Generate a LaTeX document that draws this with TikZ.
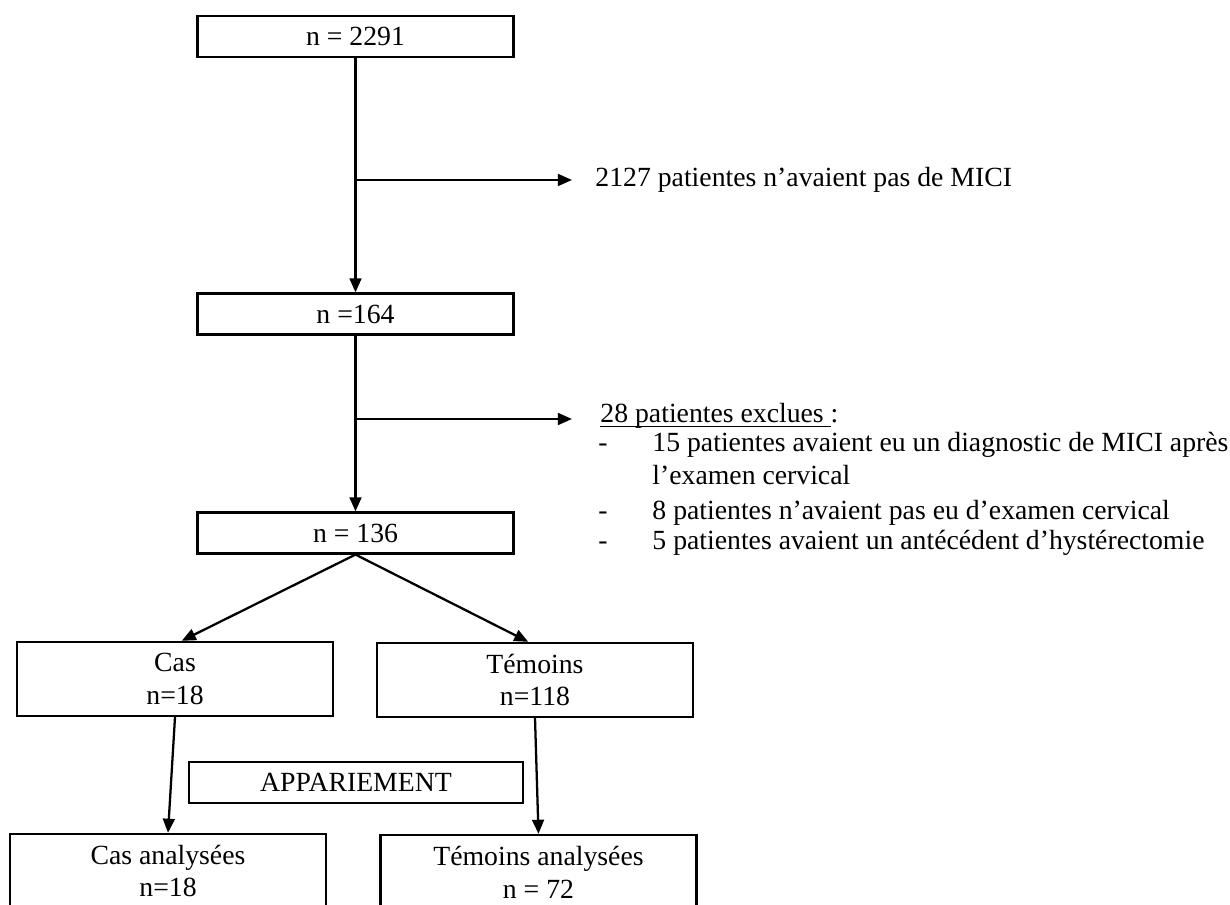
\documentclass[tikz,border=0pt]{standalone}
\usepackage{fontspec}
\setmainfont{Liberation Serif}
\usetikzlibrary{arrows.meta}

\tikzset{
	box/.style={draw, line width=1pt, minimum width=139pt, minimum height=18pt, inner sep=0pt, align=center, font=\fontsize{12.2}{14.5}\selectfont},
	tallbox/.style={box, minimum height=32.6pt},
	link/.style={line width=1pt, -{Triangle[length=6.2pt,width=5.2pt]}},
	note/.style={inner sep=0pt, anchor=base west, font=\fontsize{12.2}{14.5}\selectfont}
}

\begin{document}
\begin{tikzpicture}[x=0.44pt, y=-0.44pt]
	\useasboundingbox (0,0) rectangle (1230,905);

	% Boxes
	\node[box] (total) at (355.5,36.5) {n = 2291};
	\node[box] (mici) at (355.5,314) {n =164};
	\node[box] (incl) at (355.5,533) {n = 136};

	\node[tallbox] (cas) at (175,679) {Cas\\n=18};
	\node[tallbox] (tem) at (535,680) {Témoins\\n=118};

	\node[box, minimum width=147pt] (appar) at (356,782.5) {APPARIEMENT};

	\node[tallbox] (casan) at (168,871) {Cas analysées\\n=18};
	\node[tallbox] (teman) at (538.5,872) {Témoins analysées\\n = 72};

	% Branch points
	\coordinate (split1) at (355.5,180);
	\coordinate (out1) at (572,180);
	\coordinate (split2) at (355.5,419);
	\coordinate (out2) at (572,419);

	% Side notes
	\node[note] (nomici) at (595,187) {2127 patientes n’avaient pas de MICI};

	\node[note] (excl) at (600,423) {\underline{\smash{28 patientes exclues }}:};
	\node[note] (dash1) at (598,452) {-};
	\node[note] (excl1) at (652,452) {15 patientes avaient eu un diagnostic de MICI après};
	\node[note] (excl1b) at (652,485) {l’examen cervical};
	\node[note] (dash2) at (598,520) {-};
	\node[note] (excl2) at (652,520) {8 patientes n’avaient pas eu d’examen cervical};
	\node[note] (dash3) at (598,550) {-};
	\node[note] (excl3) at (652,550) {5 patientes avaient un antécédent d’hystérectomie};

	% Connections
	\draw[link] (total) -- (mici);
	\draw[link] (split1) -- (out1);
	\draw[link] (mici) -- (incl);
	\draw[link] (split2) -- (out2);

	\draw[link] (incl.south) -- (cas.80);
	\draw[link] (incl.south) -- (tem.100);

	\draw[link] (cas.south) -- (casan.north);
	\draw[link] (tem.south) -- (teman.north);
\end{tikzpicture}
\end{document}
